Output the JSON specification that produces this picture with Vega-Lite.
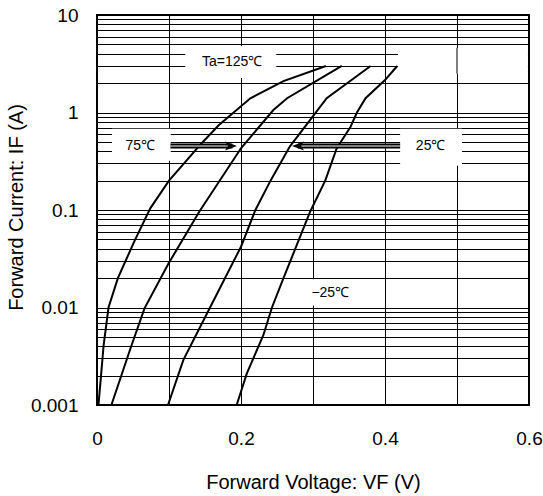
{
  "$schema": "https://vega.github.io/schema/vega-lite/v6.json",
  "width": 432,
  "height": 390,
  "autosize": {"type": "none"},
  "padding": {"left": 97, "top": 15, "right": 14, "bottom": 91},
  "config": {
    "font": "Liberation Sans",
    "view": {"stroke": "black", "strokeWidth": 2},
    "axis": {"gridColor": "black", "gridOpacity": 1, "gridWidth": 1, "ticks": false, "domain": false,
             "labelFlush": false,
             "labelFont": "Liberation Sans", "labelFontSize": 19, "labelColor": "black",
             "titleFont": "Liberation Sans", "titleFontSize": 20, "titleFontWeight": "normal", "titleColor": "black"}
  },
  "datasets": {
    "curves": [
      {"ta": "125", "v": 0.002, "i": 0.001}, {"ta": "125", "v": 0.0056, "i": 0.002}, {"ta": "125", "v": 0.0092, "i": 0.0041},
      {"ta": "125", "v": 0.016, "i": 0.01}, {"ta": "125", "v": 0.029, "i": 0.02}, {"ta": "125", "v": 0.052, "i": 0.048},
      {"ta": "125", "v": 0.074, "i": 0.104}, {"ta": "125", "v": 0.100, "i": 0.2}, {"ta": "125", "v": 0.146, "i": 0.49},
      {"ta": "125", "v": 0.169, "i": 0.74}, {"ta": "125", "v": 0.213, "i": 1.4}, {"ta": "125", "v": 0.259, "i": 2.1},
      {"ta": "125", "v": 0.318, "i": 3.0},
      {"ta": "75", "v": 0.020, "i": 0.001}, {"ta": "75", "v": 0.048, "i": 0.0041}, {"ta": "75", "v": 0.066, "i": 0.0098},
      {"ta": "75", "v": 0.0995, "i": 0.0284}, {"ta": "75", "v": 0.142, "i": 0.096}, {"ta": "75", "v": 0.200, "i": 0.43},
      {"ta": "75", "v": 0.245, "i": 1.06}, {"ta": "75", "v": 0.264, "i": 1.4}, {"ta": "75", "v": 0.340, "i": 3.0},
      {"ta": "25", "v": 0.0986, "i": 0.001}, {"ta": "25", "v": 0.120, "i": 0.0029}, {"ta": "25", "v": 0.157, "i": 0.01},
      {"ta": "25", "v": 0.200, "i": 0.042}, {"ta": "25", "v": 0.220, "i": 0.1}, {"ta": "25", "v": 0.241, "i": 0.2},
      {"ta": "25", "v": 0.268, "i": 0.45}, {"ta": "25", "v": 0.303, "i": 0.98}, {"ta": "25", "v": 0.319, "i": 1.4},
      {"ta": "25", "v": 0.380, "i": 3.0},
      {"ta": "-25", "v": 0.194, "i": 0.001}, {"ta": "-25", "v": 0.208, "i": 0.0021}, {"ta": "-25", "v": 0.231, "i": 0.0052},
      {"ta": "-25", "v": 0.243, "i": 0.01}, {"ta": "-25", "v": 0.259, "i": 0.02}, {"ta": "-25", "v": 0.296, "i": 0.096},
      {"ta": "-25", "v": 0.317, "i": 0.2}, {"ta": "-25", "v": 0.333, "i": 0.43}, {"ta": "-25", "v": 0.352, "i": 0.71},
      {"ta": "-25", "v": 0.361, "i": 1.0}, {"ta": "-25", "v": 0.373, "i": 1.4}, {"ta": "-25", "v": 0.400, "i": 2.15},
      {"ta": "-25", "v": 0.417, "i": 3.0}
    ],
    "boxes": [
      {"name": "ta125", "v1": 0.1226, "v2": 0.249, "i1": 2.26, "i2": 4.8},
      {"name": "ta75", "v1": 0.0208, "v2": 0.1025, "i1": 0.32, "i2": 0.68},
      {"name": "ta25", "v1": 0.421, "v2": 0.507, "i1": 0.285, "i2": 0.68},
      {"name": "tam25", "v1": 0.29, "v2": 0.355, "i1": 0.0105, "i2": 0.0195},
      {"name": "gap", "v1": 0.418, "v2": 0.5985, "i1": 2.5, "i2": 4.6}
    ],
    "vlines": [
      {"v": 0.5, "i1": 2.5, "i2": 4.6}
    ],
    "arrows": [
      {"name": "a75", "v1": 0.102, "v2": 0.188, "i": 0.453, "hv": 0.1861, "dir": "right"},
      {"name": "a25", "v1": 0.279, "v2": 0.421, "i": 0.453, "hv": 0.2792, "dir": "left"}
    ],
    "labels": [
      {"text": "Ta=125℃", "v": 0.1876, "i": 3.32},
      {"text": "75℃", "v": 0.060, "i": 0.453},
      {"text": "25℃", "v": 0.4634, "i": 0.453},
      {"text": "−25℃", "v": 0.324, "i": 0.014}
    ]
  },
  "layer": [
    {
      "data": {"name": "boxes"},
      "mark": {"type": "rect", "color": "white", "opacity": 1},
      "encoding": {
        "x": {"field": "v1", "type": "quantitative",
              "scale": {"domain": [0, 0.6], "nice": false, "zero": false},
              "axis": {"values": [0, 0.1, 0.2, 0.3, 0.4, 0.5, 0.6], "grid": true, "format": ".1~f",
                       "labelExpr": "indexof([0, 0.2, 0.4, 0.6], datum.value) >= 0 ? datum.label : ''",
                       "labelOverlap": false, "labelBound": false, "labelPadding": 24,
                       "title": "Forward Voltage: VF (V)", "titleBaseline": "alphabetic", "titleY": 83}},
        "x2": {"field": "v2"},
        "y": {"field": "i1", "type": "quantitative",
              "scale": {"type": "log", "domain": [0.001, 10], "nice": false},
              "axis": {"values": [0.001, 0.002, 0.003, 0.004, 0.005, 0.006, 0.007, 0.008, 0.009,
                                  0.01, 0.02, 0.03, 0.04, 0.05, 0.06, 0.07, 0.08, 0.09,
                                  0.1, 0.2, 0.3, 0.4, 0.5, 0.6, 0.7, 0.8, 0.9,
                                  1, 2, 3, 4, 5, 6, 7, 8, 9, 10],
                       "grid": true, "format": ".3~f",
                       "labelExpr": "indexof([0.001, 0.01, 0.1, 1, 10], datum.value) >= 0 ? datum.label : ''",
                       "labelOverlap": false, "labelBound": false, "labelPadding": 19,
                       "title": "Forward Current: IF (A)", "titleBaseline": "middle", "titleAlign": "center",
                       "titleX": -81, "titleY": 192}},
        "y2": {"field": "i2"}
      }
    },
    {
      "data": {"name": "vlines"},
      "mark": {"type": "rule", "color": "black", "strokeWidth": 1},
      "encoding": {
        "x": {"field": "v", "type": "quantitative"},
        "y": {"field": "i1", "type": "quantitative"},
        "y2": {"field": "i2"}
      }
    },
    {
      "data": {"name": "curves"},
      "mark": {"type": "line", "color": "black", "strokeWidth": 2},
      "encoding": {
        "x": {"field": "v", "type": "quantitative"},
        "y": {"field": "i", "type": "quantitative"},
        "detail": {"field": "ta", "type": "nominal"}
      }
    },
    {
      "data": {"name": "arrows"},
      "mark": {"type": "rule", "color": "black", "strokeWidth": 5},
      "encoding": {
        "x": {"field": "v1", "type": "quantitative"},
        "x2": {"field": "v2"},
        "y": {"field": "i", "type": "quantitative"}
      }
    },
    {
      "data": {"name": "arrows"},
      "mark": {"type": "rule", "color": "white", "strokeWidth": 1},
      "encoding": {
        "x": {"field": "v1", "type": "quantitative"},
        "x2": {"field": "v2"},
        "y": {"field": "i", "type": "quantitative"}
      }
    },
    {
      "data": {"name": "arrows"},
      "mark": {"type": "point", "filled": true, "color": "black", "opacity": 1, "size": 144},
      "encoding": {
        "x": {"field": "hv", "type": "quantitative"},
        "y": {"field": "i", "type": "quantitative"},
        "shape": {"field": "dir", "type": "nominal", "legend": null,
                  "scale": {"domain": ["right", "left"],
                            "range": ["M1,0L-1,-0.75L-0.5,0L-1,0.75Z", "M-1,0L1,-0.75L0.5,0L1,0.75Z"]}}
      }
    },
    {
      "data": {"name": "labels"},
      "mark": {"type": "text", "color": "black", "fontSize": 14, "font": "Liberation Sans", "align": "center", "baseline": "middle"},
      "encoding": {
        "x": {"field": "v", "type": "quantitative"},
        "y": {"field": "i", "type": "quantitative"},
        "text": {"field": "text", "type": "nominal"}
      }
    }
  ]
}
